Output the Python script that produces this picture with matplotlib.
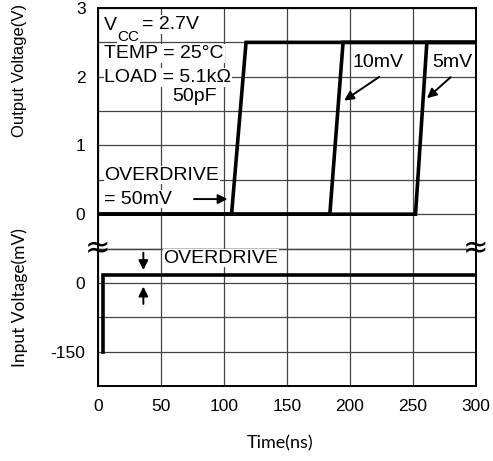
import matplotlib
matplotlib.use('Agg')
import matplotlib.pyplot as plt

# output traces (time in ns, output in V) for each overdrive
t_50mv = [0, 106, 117.5, 300]
v_50mv = [0, 0, 2.5, 2.5]
t_10mv = [0, 184, 194.5, 300]
v_10mv = [0, 0, 2.5, 2.5]
t_5mv = [0, 252, 261, 300]
v_5mv = [0, 0, 2.5, 2.5]

# input step (time in ns, input in mV)
t_in = [4, 4, 300]
v_in = [-150, 17, 17]

x_ticks = [0, 50, 100, 150, 200, 250, 300]
out_ticks = [-0.5, 0, 0.5, 1, 1.5, 2, 2.5, 3]
out_labels = ['', '0', '', '1', '', '2', '', '3']
in_ticks = [-225, -150, -75, 0, 75]
in_labels = ['', '-150', '', '0', '']

plt.rcParams['font.family'] = ['Liberation Sans', 'DejaVu Sans']
W, H = 493, 461
fig = plt.figure(figsize=(W / 100, H / 100), dpi=100)

left, right, top, bot = 98 / W, 476 / W, 1 - 8 / H, 1 - 386 / H
brk = bot + (top - bot) * 4 / 11
ax1 = fig.add_axes([left, brk, right - left, top - brk])
ax2 = fig.add_axes([left, bot, right - left, brk - bot])

grid_kw = dict(color='#444444', lw=0.9)
for ax in (ax1, ax2):
    ax.set_xlim(0, 300)
    ax.set_xticks(x_ticks)
    ax.grid(True, **grid_kw)
    ax.tick_params(length=0, labelsize=12.5, pad=9)
    for s in ax.spines.values():
        s.set_linewidth(1.4)
ax1.spines['bottom'].set(color='#444444', linewidth=0.9)
ax2.spines['top'].set(color='#444444', linewidth=0.9)

ax1.set_ylim(-0.5, 3)
ax1.set_yticks(out_ticks, out_labels)
ax1.tick_params(labelbottom=False)
ax2.set_ylim(-225, 75)
ax2.set_yticks(in_ticks, in_labels)

lw = 2.6
for t, v in [(t_50mv, v_50mv), (t_10mv, v_10mv), (t_5mv, v_5mv)]:
    ax1.plot(t, v, color='black', lw=lw, solid_joinstyle='miter', zorder=3)
ax2.plot(t_in, v_in, color='black', lw=lw, solid_joinstyle='miter', zorder=3)

box = dict(facecolor='white', edgecolor='none', pad=0.5)
tk = dict(fontsize=14, bbox=box, zorder=4)
# V_CC written as three pieces so the subscript sits low and large
ax1.text(5, 2.75, 'V', va='center', **tk)
ax1.text(15.5, 2.58, 'CC', va='center', fontsize=11, bbox=box, zorder=4)
ax1.text(35, 2.76, '= 2.7V', va='center', **tk)
ax1.text(5, 2.34, 'TEMP = 25°C', va='center', **tk)
ax1.text(5, 1.99, 'LOAD = 5.1kΩ', va='center', **tk)
ax1.text(94, 1.71, '50pF', va='center', ha='right', **tk)
ax1.text(5, 0.57, 'OVERDRIVE', va='center', **tk)
ax1.text(5, 0.22, '= 50mV', va='center', **tk)
ax1.text(202, 2.2, '10mV', va='center', **tk)
ax1.text(265, 2.2, '5mV', va='center', **tk)

akw = dict(arrowstyle='-|>', color='black', lw=1.4, mutation_scale=14)
ax1.annotate('', xy=(105, 0.22), xytext=(74, 0.22), arrowprops=akw)
ax1.annotate('', xy=(193.5, 1.63), xytext=(225, 2.02), arrowprops=akw)
ax1.annotate('', xy=(259.5, 1.66), xytext=(281.5, 2.02), arrowprops=akw)

ax2.text(52, 54, 'OVERDRIVE', va='center', **tk)
ax2.annotate('', xy=(36, 22), xytext=(36, 72), arrowprops=akw)
ax2.annotate('', xy=(36, -2), xytext=(36, -52), arrowprops=akw)

for xb in (0, 300):
    ax2.text(xb, 75, '≈', ha='center', va='center', fontsize=22,
             family='DejaVu Sans', clip_on=False, zorder=5)

fig.text(20 / W, 1 - 70 / H, 'Output Voltage(V)', rotation=90,
         ha='center', va='center', fontsize=12)
fig.text(20 / W, 1 - 298 / H, 'Input Voltage(mV)', rotation=90,
         ha='center', va='center', fontsize=12.5, family='Lato')
fig.text(280 / W, 1 - 443 / H, 'Time(ns)', ha='center', va='center',
         fontsize=13, family='Lato')

fig.savefig('out.png', dpi=100)
